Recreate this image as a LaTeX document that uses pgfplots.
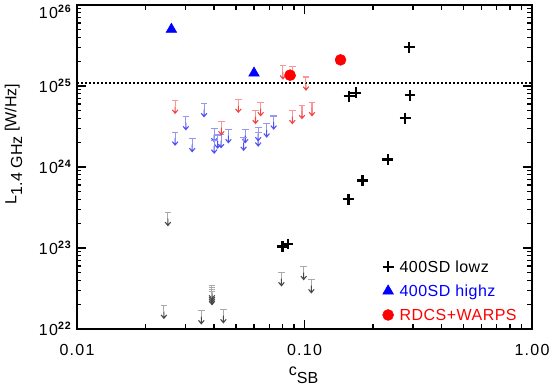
\documentclass[border=0pt]{standalone}
\usepackage{fontspec}
\setmainfont{Liberation Sans}
\newfontfamily\tickfont[LetterSpace=8]{Liberation Sans}
\newfontfamily\legfont[LetterSpace=3]{Liberation Sans}
\usepackage{pgfplots}
\pgfplotsset{compat=1.18}
\usepackage{pgfplotstable}

\definecolor{limR}{RGB}{240,70,70}
\definecolor{limRbar}{RGB}{250,150,150}
\definecolor{limB}{RGB}{80,80,240}
\definecolor{limBbar}{RGB}{150,150,245}
\definecolor{limG}{RGB}{70,70,70}
\definecolor{limGbar}{RGB}{170,170,170}

\newcommand\ulimmark[2]{%
  \pgfsetlinewidth{0.8pt}%
  \pgfsetstrokecolor{#1}%
  \pgfpathmoveto{\pgfpoint{-2.5pt}{0pt}}\pgfpathlineto{\pgfpoint{2.5pt}{0pt}}%
  \pgfpathmoveto{\pgfpoint{0pt}{0pt}}\pgfpathlineto{\pgfpoint{0pt}{-4.5pt}}%
  \pgfusepathqstroke
  \pgfsetstrokecolor{#2}%
  \pgfpathmoveto{\pgfpoint{0pt}{-4.5pt}}\pgfpathlineto{\pgfpoint{0pt}{-9.75pt}}%
  \pgfpathmoveto{\pgfpoint{-2.1pt}{-7.2pt}}\pgfpathlineto{\pgfpoint{0pt}{-9.75pt}}\pgfpathlineto{\pgfpoint{2.1pt}{-7.2pt}}%
  \pgfusepathqstroke}
\pgfdeclareplotmark{ulimR}{\ulimmark{limRbar}{limR}}
\pgfdeclareplotmark{ulimB}{\ulimmark{limBbar}{limB}}
\pgfdeclareplotmark{ulimG}{\ulimmark{limGbar}{limG}}

\newcommand\tpow[1]{10\textsuperscript{\textbf{#1}}}

\pgfplotstableread{
x y
0.289 3.0e25
0.157 7.5e24
0.168 8.2e24
0.291 7.7e24
0.277 4.0e24
0.232 1.24e24
0.180 6.8e23
0.156 4.0e23
0.080 1.04e23
0.0844 1.12e23
}\lowz
\pgfplotstableread{
x y
0.026 5.0e25
0.060 1.44e25
}\highz
\pgfplotstableread{
x y
0.0864 1.36e25
0.144 2.1e25
}\rdcs
\pgfplotstableread{
x y
0.0270 6.66e24
0.0431 3.62e24
0.0512 6.85e24
0.0609 4.98e24
0.0642 6.22e24
0.0804 1.77e25
0.0888 1.74e25
0.1015 1.29e25
0.0884 4.98e24
0.0975 5.74e24
0.1079 6.22e24
}\limred
\pgfplotstableread{
x y
0.0270 2.70e24
0.0301 4.18e24
0.0362 6.05e24
0.0321 2.24e24
0.0401 2.97e24
0.0401 2.15e24
0.0415 2.48e24
0.0430 2.51e24
0.0463 2.89e24
0.0549 2.89e24
0.0540 2.33e24
0.0626 3.06e24
0.0626 2.63e24
0.0682 3.40e24
0.0732 4.26e24
}\limblue
\pgfplotstableread{
x y
0.0251 2.74e23
0.0241 1.96e22
0.0352 1.68e22
0.0440 1.73e22
0.0392 3.42e22
0.0392 3.24e22
0.0392 3.06e22
0.0392 2.89e22
0.0792 4.95e22
0.0992 5.91e22
0.1072 4.06e22
}\limgray

\begin{document}
\begin{tikzpicture}
\useasboundingbox (-57.75pt,-45.75pt) rectangle (357pt,246.75pt);
\begin{axis}[
  at={(0pt,0pt)}, anchor=south west,
  scale only axis, width=341.25pt, height=243pt,
  xmode=log, ymode=log,
  xmin=0.01, xmax=1, ymin=1e22, ymax=1e26,
  xtick={0.01,0.1,1}, xticklabels={0.01,0.10,1.00},
  ytick={1e22,1e23,1e24,1e25,1e26},
  yticklabels={\tpow{22},\tpow{23},\tpow{24},\tpow{25},\raisebox{-5pt}[\height][\depth]{\tpow{26}}},
  tick align=inside, tick pos=both,
  major tick length=6.75pt, minor tick length=3.4pt,
  axis line style={line width=1.5pt},
  every tick/.style={black, line width=1pt},
  tick label style={font=\tickfont\fontsize{12}{14}\selectfont},
  xticklabel style={yshift=-8pt},
  clip=false,
  legend cell align=left,
  legend image code/.code={\draw[#1] plot coordinates {(4pt,0pt)};},
  legend style={at={(1,0)}, anchor=south east, xshift=-11.5pt, yshift=6pt,
    draw=none, fill=none, inner sep=0pt, outer sep=0pt,
    row sep=9pt, column sep=4.5pt,
    nodes={inner sep=0pt, text height=9pt, text depth=0pt},
    font=\legfont\fontsize{12}{14}\selectfont},
]
\addplot[only marks, mark=ulimG, forget plot] table[x=x,y=y] {\limgray};
\addplot[only marks, mark=ulimB, forget plot] table[x=x,y=y] {\limblue};
\addplot[only marks, mark=ulimR, forget plot] table[x=x,y=y] {\limred};
\addplot[black, line width=1.5pt, dash pattern=on 1.5pt off 1.5pt, forget plot] coordinates {(0.01,1.1e25) (1,1.1e25)};
\addplot[only marks, mark=+, mark size=4.1pt, black, line width=1.7pt] table[x=x,y=y] {\lowz};
\addlegendentry{\textcolor{black}{400SD lowz}}
\addplot[only marks, mark=triangle*, mark size=4.6pt, blue, fill=blue] table[x=x,y=y] {\highz};
\addlegendentry{\textcolor{blue}{400SD highz}}
\addplot[only marks, mark=*, mark size=4.1pt, red, fill=red] table[x=x,y=y] {\rdcs};
\addlegendentry{\textcolor{red}{RDCS+WARPS}}
\end{axis}
\node[font=\fontsize{12}{14}\selectfont] at (169.9pt,-34.5pt) {c\raisebox{-6pt}{SB}};
\node[rotate=90, font=\fontsize{12}{14}\selectfont] at (-47.6pt,138.75pt) {L\raisebox{-4.3pt}{1.4 GHz} [W/Hz]};
\end{tikzpicture}
\end{document}
